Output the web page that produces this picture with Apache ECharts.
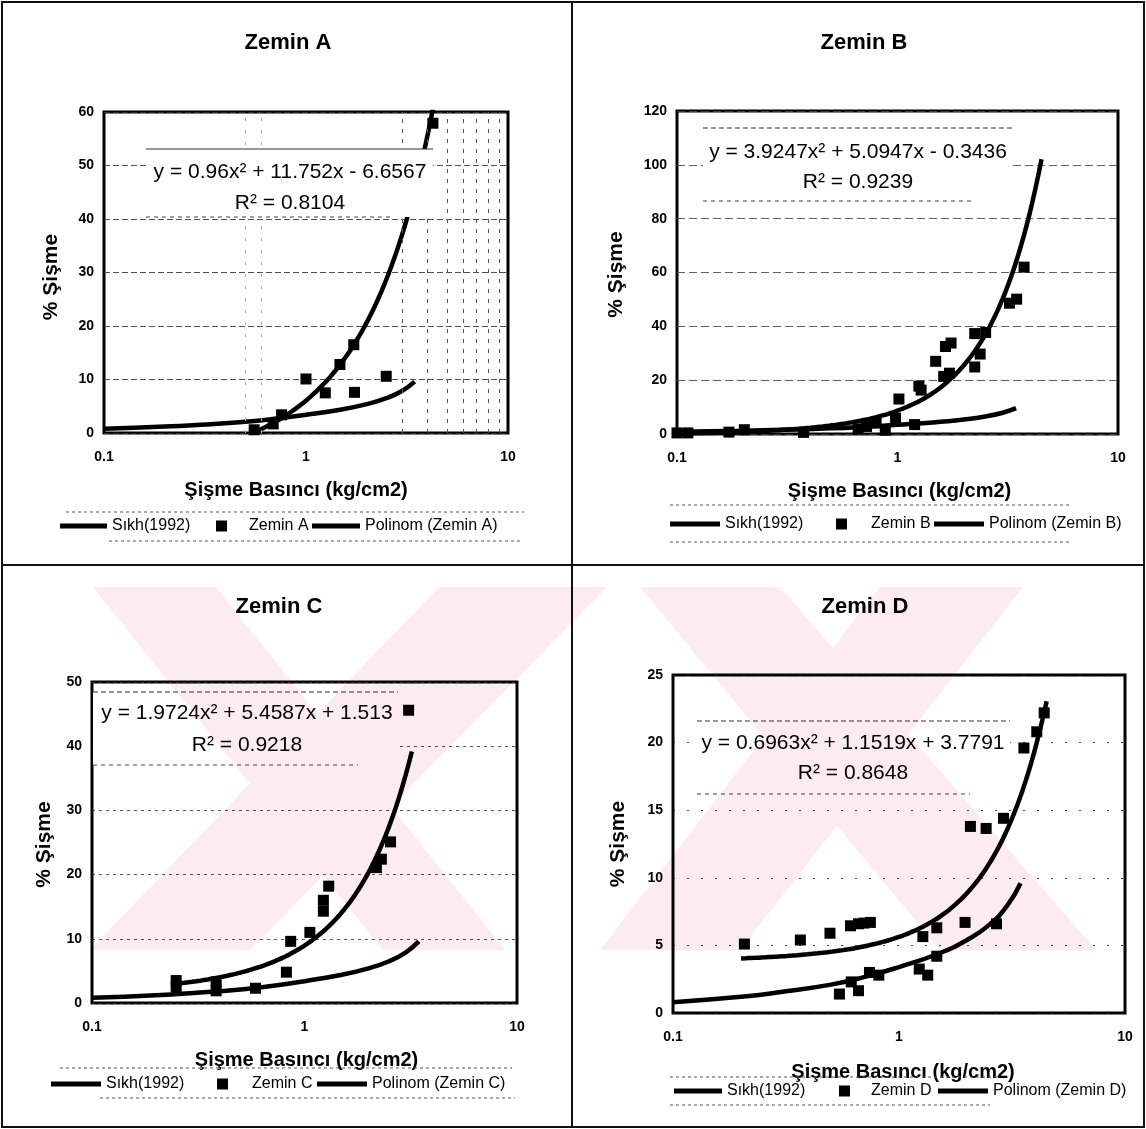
<!DOCTYPE html>
<html>
<head>
<meta charset="utf-8">
<script src="https://cdn.jsdelivr.net/npm/echarts@6/dist/echarts.min.js"></script>
<style>
  html, body { margin: 0; padding: 0; background: #fff; }
  #chart { width: 1146px; height: 1129px; }
</style>
</head>
<body>
<div id="chart"></div>
<script>
const FONT = '"Liberation Sans", Arial, sans-serif';

// Sikh (1992) reference curve, drawn in every panel
const sikhX = [0.1, 0.2, 0.3, 0.5, 0.7, 1, 1.5, 2, 2.5, 3, 3.45];
const sikhY = [0.8, 1.2, 1.55, 2.1, 2.65, 3.4, 4.4, 5.4, 6.5, 7.9, 9.6];

// Zemin A: swell pressure (kg/cm2) and swell (%)
const zeminAX = [0.554, 0.688, 0.757, 1.0, 1.246, 1.472, 1.724, 1.738, 2.495, 4.25];
const zeminAY = [0.6, 1.7, 3.4, 10.1, 7.5, 12.8, 16.5, 7.6, 10.6, 57.9];

// Zemin B
const zeminBX = [0.1, 0.112, 0.172, 0.202, 0.375, 0.663, 0.724, 0.80, 0.88, 0.98, 1.015, 1.196, 1.25, 1.28,
                 1.49, 1.62, 1.65, 1.72, 1.75, 2.24, 2.24, 2.37, 2.51, 3.22, 3.47, 3.75];
const zeminBY = [0.4, 0.4, 0.7, 1.6, 0.6, 1.9, 2.8, 4.1, 1.4, 5.9, 13.0, 3.5, 17.8, 16.3,
                 27.0, 21.4, 32.5, 22.6, 33.8, 24.9, 37.3, 29.7, 37.7, 48.6, 50.1, 62.0];

// Zemin C
const zeminCX = [0.249, 0.249, 0.384, 0.384, 0.588, 0.822, 0.861, 1.06, 1.227, 1.227, 1.30, 2.18, 2.30, 2.54, 3.09];
const zeminCY = [3.5, 2.5, 3.3, 1.9, 2.3, 4.8, 9.6, 11.0, 16.0, 14.3, 18.2, 21.1, 22.4, 25.1, 45.6];

// Zemin D
const zeminDX = [0.207, 0.366, 0.495, 0.61, 0.662, 0.70, 0.747, 0.545, 0.615, 0.662, 0.74, 0.814,
                 1.229, 1.34, 1.275, 1.47, 1.47, 1.96, 2.07, 2.43, 2.70, 2.9, 3.57, 4.07, 4.39];
const zeminDY = [5.1, 5.4, 5.9, 6.45, 6.6, 6.65, 6.7, 1.4, 2.3, 1.65, 3.0, 2.8,
                 3.25, 2.8, 5.65, 6.3, 4.2, 6.7, 13.8, 13.65, 6.6, 14.4, 19.6, 20.8, 22.2];

// second-order trendlines y = a x^2 + b x + c and the x span each one covers
const polyA = [0.96, 11.752, -6.6567];   const spanA = [0.55, 4.25];
const polyB = [3.9247, 5.0947, -0.3436]; const spanB = [0.1, 4.5];
const polyC = [1.9724, 5.4587, 1.513];   const spanC = [0.25, 3.2];
const polyD = [0.6963, 1.1519, 3.7791];  const spanD = [0.2, 4.5];

const eqA = ['y = 0.96x² + 11.752x - 6.6567', 'R² = 0.8104'];
const eqB = ['y = 3.9247x² + 5.0947x - 0.3436', 'R² = 0.9239'];
const eqC = ['y = 1.9724x² + 5.4587x + 1.513', 'R² = 0.9218'];
const eqD = ['y = 0.6963x² + 1.1519x + 3.7791', 'R² = 0.8648'];

// y axis ranges and steps
const yMax = [60, 120, 50, 25];
const yStep = [10, 20, 10, 5];

// extra vertical log gridlines in the first panel (the faint ones first)
const minorGridAFaint = [0.5, 0.6];
const minorGridA = [3, 4, 5, 6, 7, 8, 9];

const zip = (xs, ys) => xs.map((x, i) => [x, ys[i]]);
function trend(coef, span, n) {
  const pts = [];
  const l0 = Math.log10(span[0]), l1 = Math.log10(span[1]);
  for (let i = 0; i <= n; i++) {
    const x = Math.pow(10, l0 + (l1 - l0) * i / n);
    pts.push([x, coef[0] * x * x + coef[1] * x + coef[2]]);
  }
  return pts;
}

const panels = [
  { key: 'A', xs: zeminAX, ys: zeminAY, poly: polyA, span: spanA, eq: eqA,
    grid: { left: 104, top: 112, width: 404, height: 321 },
    title: [288, 32], yName: { gap: 42, pad: [0, 9, 0, 0] }, xName: { gap: 47, pad: [0, 20, 0, 0] },
    grid2: [6, 3], gridColor: '#333',
    eqBox: [146, 149, 287, 68], eqPos: [290, 172, 203],
    legend: { y: 527, l1: 60, w1: 47, sq: 216, sqPad: 17, l3: 312, w3: 48 },
    rules: [[66, 512, 524], [109, 541, 521]] },
  { key: 'B', xs: zeminBX, ys: zeminBY, poly: polyB, span: spanB, eq: eqB,
    grid: { left: 677, top: 111, width: 441, height: 323 },
    title: [864, 32], yName: { gap: 50, pad: [0, 4, 0, 0] }, xName: { gap: 47, pad: [0, 0, 0, 4] },
    grid2: [8, 4], gridColor: '#444',
    eqBox: [703, 128, 310, 73], eqPos: [858, 152, 182],
    legend: { y: 525, l1: 670, w1: 50, sq: 836, sqPad: 19, l3: 934, w3: 50 },
    rules: [[670, 505, 1070], [670, 542, 1070]] },
  { key: 'C', xs: zeminCX, ys: zeminCY, poly: polyC, span: spanC, eq: eqC,
    grid: { left: 92, top: 682, width: 425, height: 321 },
    title: [279, 596], yName: { gap: 37, pad: [0, 4, 0, 0] }, xName: { gap: 47, pad: [0, 0, 0, 4] },
    grid2: [3, 4], gridColor: '#333',
    eqBox: [93, 692, 305, 73], eqPos: [247, 713, 745],
    legend: { y: 1085, l1: 51, w1: 50, sq: 217, sqPad: 19, l3: 317, w3: 50 },
    rules: [[60, 1068, 512], [100, 1098, 515]] },
  { key: 'D', xs: zeminDX, ys: zeminDY, poly: polyD, span: spanD, eq: eqD,
    grid: { left: 673, top: 675, width: 452, height: 338 },
    title: [865, 596], yName: { gap: 44, pad: [0, 0, 0, 0] }, xName: { gap: 49, pad: [0, 0, 0, 8] },
    grid2: [2, 12], gridColor: '#222',
    eqBox: [697, 721, 313, 73], eqPos: [853, 743, 773],
    legend: { y: 1092, l1: 674, w1: 48, sq: 839, sqPad: 16, l3: 938, w3: 50 },
    rules: [[670, 1077, 1000], [670, 1105, 990]] }
];

const option = {
  animation: false,
  backgroundColor: '#fff',
  textStyle: { fontFamily: FONT, color: '#000' },
  title: [], grid: [], xAxis: [], yAxis: [], series: [], legend: [], graphic: []
};

panels.forEach((p, i) => {
  option.title.push({
    text: 'Zemin ' + p.key, left: p.title[0], top: p.title[1], textAlign: 'center', padding: 0,
    textStyle: { fontFamily: FONT, fontSize: 22, fontWeight: 'bold', color: '#000' }
  });
  option.grid.push(Object.assign({ show: true, borderColor: '#000', borderWidth: 3, backgroundColor: 'transparent' }, p.grid));
  option.xAxis.push({
    type: 'log', logBase: 10, min: 0.1, max: 10, gridIndex: i,
    name: 'Şişme Basıncı (kg/cm2)', nameLocation: 'middle', nameGap: p.xName.gap,
    nameTextStyle: { fontFamily: FONT, fontSize: 20, fontWeight: 'bold', color: '#000', padding: p.xName.pad },
    axisLine: { show: false }, axisTick: { show: false }, splitLine: { show: false },
    axisLabel: { fontFamily: FONT, fontSize: 14, fontWeight: 'bold', color: '#000', margin: 17,
                 formatter: v => String(+Number(v).toPrecision(3)) }
  });
  option.yAxis.push({
    type: 'value', min: 0, max: yMax[i], interval: yStep[i], gridIndex: i,
    name: '% Şişme', nameLocation: 'middle', nameGap: p.yName.gap, nameRotate: 90,
    nameTextStyle: { fontFamily: FONT, fontSize: 21, fontWeight: 'bold', color: '#000', padding: p.yName.pad },
    axisLine: { show: false }, axisTick: { show: false },
    splitLine: { show: true, lineStyle: { color: p.gridColor, width: 1, type: p.grid2, opacity: 0.85 } },
    axisLabel: { fontFamily: FONT, fontSize: 14, fontWeight: 'bold', color: '#000', margin: 10 }
  });

  const scatter = {
    type: 'scatter', name: 'Zemin ' + p.key, xAxisIndex: i, yAxisIndex: i,
    data: zip(p.xs, p.ys), symbol: 'rect', symbolSize: 11,
    itemStyle: { color: '#000', opacity: 1 }, z: 4, silent: true
  };
  if (p.key === 'A') {
    scatter.markLine = {
      silent: true, symbol: 'none', label: { show: false },
      lineStyle: { color: '#555', width: 1, type: [4, 6] },
      data: minorGridAFaint.map(v => ({ xAxis: v, lineStyle: { color: '#aaa', type: [3, 9] } }))
        .concat(minorGridA.map(v => ({ xAxis: v })))
    };
  }
  option.series.push(
    { type: 'line', name: 'Sıkh(1992)', xAxisIndex: i, yAxisIndex: i, data: zip(sikhX, sikhY),
      smooth: true, showSymbol: false, symbol: 'none', itemStyle: { color: '#000' },
      lineStyle: { color: '#000', width: 4.5 }, z: 3, silent: true },
    scatter,
    { type: 'line', name: 'Polinom (Zemin ' + p.key + ')', xAxisIndex: i, yAxisIndex: i,
      data: trend(p.poly, p.span, 60), smooth: true, showSymbol: false, symbol: 'none', clip: true,
      itemStyle: { color: '#000' }, lineStyle: { color: '#000', width: 4.5 }, z: 3, silent: true }
  );

  // legend: three separate blocks so each key keeps its own size
  const L = p.legend;
  const lt = { fontFamily: FONT, fontSize: 16, color: '#000' };
  option.legend.push(
    { data: ['Sıkh(1992)'], left: L.l1, top: L.y - 9, padding: 0, icon: 'rect', itemWidth: L.w1, itemHeight: 5,
      selectedMode: false, textStyle: lt },
    { data: ['Zemin ' + p.key], left: L.sq, top: L.y - 9, padding: 0, icon: 'rect', itemWidth: 11, itemHeight: 11,
      selectedMode: false, textStyle: Object.assign({ padding: [0, 0, 0, L.sqPad] }, lt) },
    { data: ['Polinom (Zemin ' + p.key + ')'], left: L.l3, top: L.y - 9, padding: 0, icon: 'rect', itemWidth: L.w3, itemHeight: 5,
      selectedMode: false, textStyle: lt }
  );

  // trendline equation box
  const b = p.eqBox;
  option.graphic.push(
    { type: 'rect', z: 50, silent: true, shape: { x: b[0], y: b[1], width: b[2], height: b[3] }, style: { fill: '#fff' } },
    { type: 'line', z: 51, silent: true, shape: { x1: b[0], y1: b[1], x2: b[0] + b[2], y2: b[1] },
      style: { stroke: '#333', lineWidth: 1, lineDash: p.key === 'A' ? null : [5, 3] } },
    { type: 'line', z: 51, silent: true, shape: { x1: b[0], y1: b[1] + b[3], x2: b[0] + b[2] - 40, y2: b[1] + b[3] },
      style: { stroke: '#444', lineWidth: 1, lineDash: [4, 4] } },
    { type: 'text', z: 52, silent: true, style: { text: p.eq[0], x: p.eqPos[0], y: p.eqPos[1], fill: '#000',
      font: '21px ' + FONT, textAlign: 'center', textVerticalAlign: 'middle', align: 'center', verticalAlign: 'middle' } },
    { type: 'text', z: 52, silent: true, style: { text: p.eq[1], x: p.eqPos[0], y: p.eqPos[2], fill: '#000',
      font: '21px ' + FONT, textAlign: 'center', textVerticalAlign: 'middle', align: 'center', verticalAlign: 'middle' } }
  );
  // dotted rules around the legend
  p.rules.forEach(r => option.graphic.push({ type: 'line', z: 5, silent: true,
    shape: { x1: r[0], y1: r[1], x2: r[2], y2: r[1] }, style: { stroke: '#555', lineWidth: 1, lineDash: [3, 3] } }));
});

// panel frame
const frameStyle = { stroke: '#111', lineWidth: 2 };
option.graphic.push(
  { type: 'rect', z: 60, silent: true, shape: { x: 2, y: 2, width: 1142, height: 1125 }, style: Object.assign({ fill: 'none' }, frameStyle) },
  { type: 'line', z: 60, silent: true, shape: { x1: 572, y1: 2, x2: 572, y2: 1127 }, style: frameStyle },
  { type: 'line', z: 60, silent: true, shape: { x1: 2, y1: 565, x2: 1144, y2: 565 }, style: frameStyle }
);

// faint pink stamp across the lower panels: two crossed bands each, traced as one outline
const stampBands = [
  [[[93, 587], [216, 587], [505, 950], [383, 950]], [[439, 587], [607, 587], [250, 950], [90, 950]]],
  [[[640, 587], [780, 587], [1096, 950], [940, 950]], [[880, 587], [1023, 587], [740, 950], [600, 950]]]
];
stampBands.forEach(([q1, q2]) => option.graphic.push({
  type: 'polygon', z: 100, silent: true,
  shape: { points: q1.concat([q1[0]], q2, [q2[0]]) },
  style: { fill: '#fdecef', blend: 'multiply' }
}));

const chart = echarts.init(document.getElementById('chart'), null, { renderer: 'canvas' });
chart.setOption(option);
</script>
</body>
</html>
